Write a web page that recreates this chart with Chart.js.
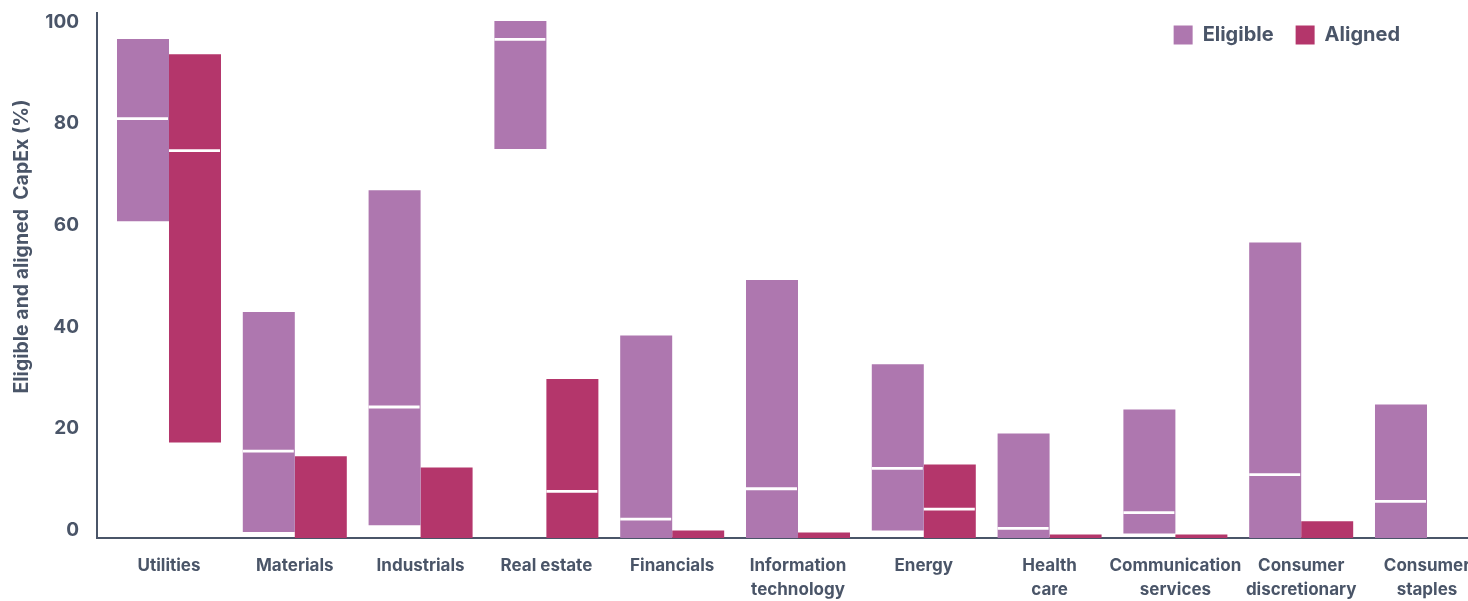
<!DOCTYPE html>
<html>
<head>
<meta charset="utf-8">
<script src="https://cdn.jsdelivr.net/npm/chart.js@4.4.1/dist/chart.umd.min.js"></script>
<style>
  html, body { margin: 0; padding: 0; background: #ffffff; overflow: hidden; }
  #wrap { width: 1468px; height: 601px; }
</style>
</head>
<body>
<div id="wrap"><canvas id="c" width="1468" height="601"></canvas></div>
<script>
// ---- data ----
const categories = [
  "Utilities", "Materials", "Industrials", "Real estate", "Financials",
  ["Information", "technology"], "Energy", ["Health", "care"],
  ["Communication", "services"], ["Consumer", "discretionary"], ["Consumer", "staples"]
];
const eligibleLow    = [60.8, -0.4, 0.9, 75.0, -1.6, -1.6, -0.1, -1.6, -0.7, -1.6, -1.6];
const eligibleHigh   = [96.7, 42.9, 66.9, 100.2, 38.3, 49.2, 32.6, 19.0, 23.7, 56.6, 24.7];
const eligibleMedian = [81.0, 15.5, 24.2, 96.6, 2.1, 8.1, 12.1, 0.3, 3.4, 10.9, 5.6];
const alignedLow     = [17.2, -1.6, -1.6, -1.6, -1.6, -1.6, -1.6, -1.6, -1.6, -1.6, null];
const alignedHigh    = [93.7, 14.5, 12.3, 29.7, -0.1, -0.5, 12.9, -0.9, -0.9, 1.7, null];
const alignedMedian  = [74.7, null, null, 7.6, null, null, 4.1, null, null, null, null];
const yTickValues = [0, 20, 40, 60, 80, 100];
const yTitle = "Eligible and aligned  CapEx (%)";
const seriesNames = ["Eligible", "Aligned"];

// ---- styling ----
const TEXT = "#4a5568";
const COL_ELIG = "#ae77af";
const COL_ALIGN = "#b4366b";
const FAMILY = "Inter, Roboto, sans-serif";
Chart.defaults.font.family = FAMILY;
Chart.defaults.color = TEXT;

function rangeData(lo, hi) {
  return categories.map((_, i) => ({ x: i, y: (lo[i] == null || hi[i] == null) ? null : [lo[i], hi[i]] }));
}

const medianPlugin = {
  id: "medianLines",
  afterDatasetsDraw(chart) {
    const meds = [eligibleMedian, alignedMedian];
    const ctx = chart.ctx;
    const ys = chart.scales.y;
    ctx.save();
    ctx.strokeStyle = "#ffffff";
    ctx.lineWidth = 2.8;
    meds.forEach((m, d) => {
      const meta = chart.getDatasetMeta(d);
      meta.data.forEach((bar, i) => {
        if (m[i] == null) return;
        const p = bar.getProps(["x", "width"], true);
        const y = ys.getPixelForValue(m[i]);
        ctx.beginPath();
        ctx.moveTo(p.x - p.width / 2, y);
        ctx.lineTo(p.x + p.width / 2 - 1, y);
        ctx.stroke();
      });
    });
    ctx.restore();
  }
};

const yTitlePlugin = {
  id: "yTitle",
  afterDraw(chart) {
    const ctx = chart.ctx;
    ctx.save();
    ctx.translate(22, 246.5);
    ctx.rotate(-Math.PI / 2);
    ctx.font = "bold 19.5px " + FAMILY;
    ctx.fillStyle = TEXT;
    ctx.textAlign = "center";
    ctx.textBaseline = "middle";
    ctx.fillText(yTitle, 0, 0);
    ctx.restore();
  }
};

// place the legend at the top right, overlapping the plot like the reference
const legendShift = {
  id: "legendShift",
  afterLayout(chart) {
    const lg = chart.legend;
    if (!lg) return;
    const dx = -46;
    lg.left += dx; lg.right += dx;
    lg.top = 3; lg.bottom = 63; lg.height = 60;
    (lg.legendHitBoxes || []).forEach(h => { h.left += dx; h.top += 3; });
  }
};

new Chart(document.getElementById("c"), {
  type: "bar",
  data: {
    datasets: [
      { label: seriesNames[0], data: rangeData(eligibleLow, eligibleHigh), backgroundColor: COL_ELIG, borderWidth: 0 },
      { label: seriesNames[1], data: rangeData(alignedLow, alignedHigh), backgroundColor: COL_ALIGN, borderWidth: 0 }
    ]
  },
  options: {
    responsive: false,
    animation: false,
    layout: { padding: { top: 0, left: 0, right: 0, bottom: 0 } },
    datasets: { bar: { categoryPercentage: 0.8267, barPercentage: 1.0 } },
    plugins: {
      tooltip: { enabled: false },
      legend: {
        position: "top",
        align: "end",
        maxHeight: 13,
        labels: {
          boxWidth: 19, boxHeight: 19, padding: 22,
          font: { size: 20, weight: "bold" }, color: TEXT
        }
      }
    },
    scales: {
      x: {
        type: "linear",
        offset: false,
        min: -0.5723,
        max: 10.326,
        grid: { display: false, drawTicks: false },
        border: { display: true, color: TEXT, width: 2 },
        afterBuildTicks: (s) => { s.ticks = categories.map((_, i) => ({ value: i })); },
        afterFit: (s) => { s.height = 63; s.paddingLeft = 0; s.paddingRight = 0; },
        ticks: {
          autoSkip: false, maxRotation: 0, minRotation: 0, padding: 16,
          font: { size: 17, weight: "bold", lineHeight: 1.4 }, color: TEXT,
          callback: (v) => categories[v]
        }
      },
      y: {
        min: -1.6,
        max: 101.8,
        grid: { display: false, drawTicks: false },
        border: { display: true, color: TEXT, width: 2 },
        afterBuildTicks: (s) => { s.ticks = yTickValues.map(v => ({ value: v })); },
        afterFit: (s) => { s.width = 97; s.paddingTop = 0; s.paddingBottom = 0; },
        ticks: { padding: 18, font: { size: 19, weight: "bold" }, color: TEXT }
      }
    }
  },
  plugins: [medianPlugin, yTitlePlugin, legendShift]
});
</script>
</body>
</html>
